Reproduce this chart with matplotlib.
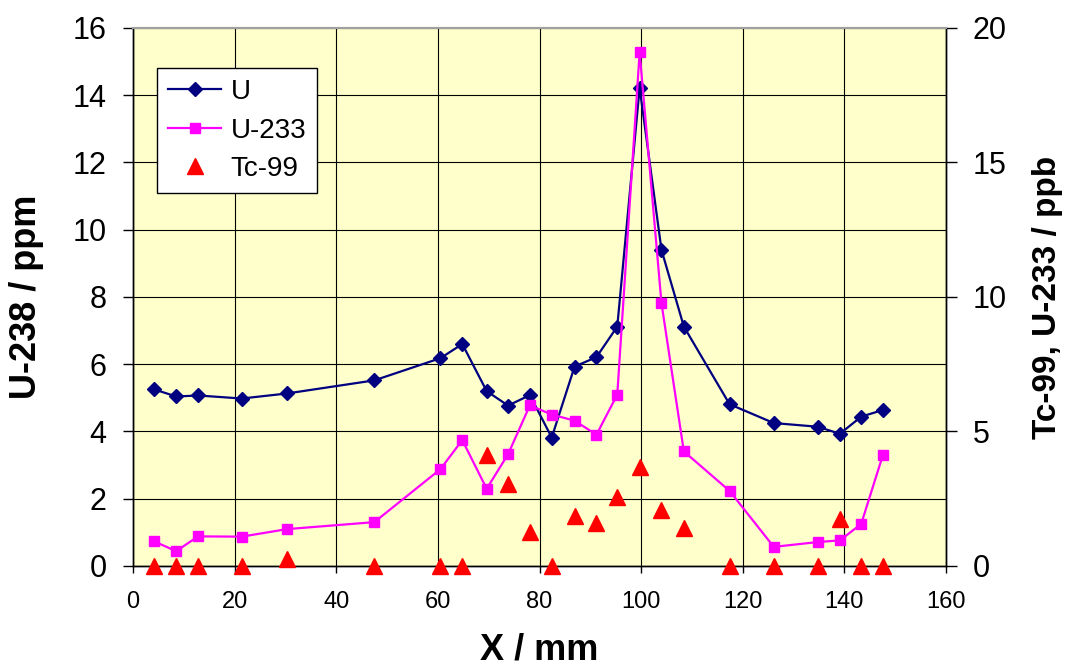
"""
U-238, U-233 and Tc-99 profiles along X
"""
import matplotlib
matplotlib.use("Agg")
import matplotlib.pyplot as plt

plt.rcParams["font.family"] = ["Liberation Sans", "DejaVu Sans"]

# data
x_mm = [4.2, 8.5, 12.8, 21.4, 30.3, 47.5, 60.5, 64.8, 69.6, 73.8, 78.1, 82.4,
        86.9, 91.2, 95.3, 99.7, 104.0, 108.4, 117.4, 126.1, 134.8, 139.1, 143.3, 147.6]
u238 = [5.25, 5.04, 5.07, 4.98, 5.13, 5.52, 6.18, 6.60, 5.20, 4.77, 5.08, 3.82,
        5.93, 6.21, 7.12, 14.22, 9.40, 7.12, 4.81, 4.25, 4.14, 3.93, 4.44, 4.64]
u233 = [0.91, 0.55, 1.10, 1.09, 1.37, 1.63, 3.60, 4.68, 2.87, 4.15, 5.97, 5.63,
        5.40, 4.88, 6.37, 19.1, 9.77, 4.26, 2.79, 0.71, 0.89, 0.95, 1.56, 4.14]
tc99 = [0, 0, 0, 0, 0.25, 0, 0, 0, 4.12, 3.03, 1.28, 0,
        1.87, 1.61, 2.55, 3.68, 2.08, 1.40, 0, 0, 0, 1.75, 0, 0]

fig = plt.figure(figsize=(10.65, 6.66), dpi=100)
ax = fig.add_axes([0.1249, 0.1502, 0.7634, 0.8078])
ax.set_facecolor("#FFFFCC")

l1, = ax.plot(x_mm, u238, color="#000080", lw=1.6, marker="D", ms=7.5,
              label="U", zorder=3)
ax.set_xlim(0, 160)
ax.set_ylim(0, 16)
ax.set_xticks(range(0, 161, 20))
ax.set_yticks(range(0, 17, 2))
ax.grid(True, color="black", lw=0.8)
ax.set_axisbelow(True)

ax2 = ax.twinx()
l2, = ax2.plot(x_mm, u233, color="#FF00FF", lw=1.6, marker="s", ms=7.5,
               label="U-233", zorder=3)
l3, = ax2.plot(x_mm, tc99, color="#FF0000", ls="none", marker="^", ms=11.5,
               label="Tc-99", zorder=4, clip_on=False)
ax2.set_ylim(0, 20)
ax2.set_yticks(range(0, 21, 5))

for a in (ax, ax2):
    a.spines["top"].set_color("#A0A0A0")
    a.spines["top"].set_linewidth(1.5)
    for s in ("left", "right", "bottom"):
        a.spines[s].set_color("black")
        a.spines[s].set_linewidth(1.0)

ax.tick_params(axis="x", direction="out", length=5, width=1, pad=13, labelsize=17)
ax.tick_params(axis="y", direction="out", length=7, width=1, pad=12, labelsize=22)
ax2.tick_params(axis="y", direction="out", length=8, width=1, pad=11, labelsize=22)

ax.set_xlabel("X / mm", fontsize=26, fontweight="bold")
ax.xaxis.set_label_coords(0.5, -0.124)
ax.set_ylabel("U-238 / ppm", fontsize=26, fontweight="bold")
ax.yaxis.set_label_coords(-0.110, 0.5)
ax2.set_ylabel("Tc-99, U-233 / ppb", fontsize=24, fontweight="bold")
ax2.yaxis.set_label_coords(1.106, 0.5)

leg = ax2.legend(handles=[l1, l2, l3], loc="upper left",
                 bbox_to_anchor=(0.0295, 0.9257), borderaxespad=0,
                 fontsize=20, fancybox=False, framealpha=1, edgecolor="black",
                 handlelength=1.9, handletextpad=0.35, labelspacing=0.45,
                 borderpad=0.4)
leg.get_frame().set_linewidth(1.0)

fig.savefig("out.png", dpi=100)
